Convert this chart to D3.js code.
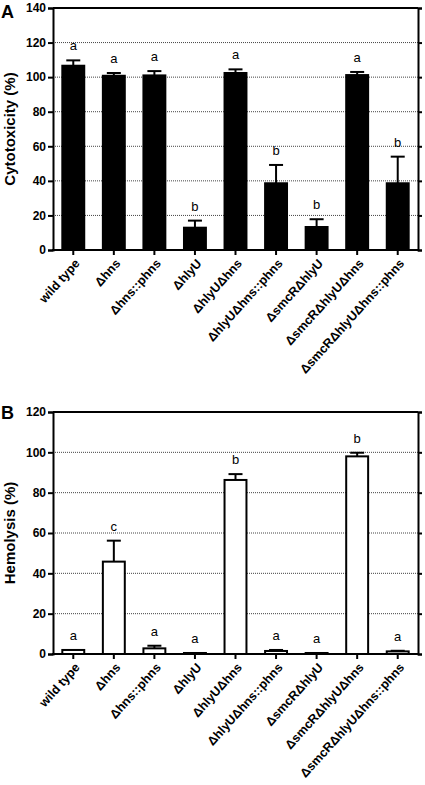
<!DOCTYPE html>
<html><head><meta charset="utf-8">
<script src="https://cdn.jsdelivr.net/npm/d3@7"></script>
<style>body{margin:0;background:#fff}svg{display:block}</style>
</head><body>
<svg id="c" width="425" height="785"></svg>
<script>
const categories = ["wild type","Δhns","Δhns::phns","ΔhlyU","ΔhlyUΔhns","ΔhlyUΔhns::phns","ΔsmcRΔhlyU","ΔsmcRΔhlyUΔhns","ΔsmcRΔhlyUΔhns::phns"];
const cytoValues = [106.6,100.8,101,12.9,102.4,38.6,13.3,101.2,38.6];
const cytoErrors = [3.1,1.6,2.5,4.1,2.1,10.6,4.5,1.8,15.4];
const cytoLetters = ["a","a","a","b","a","b","b","a","b"];
const cytoTicks = [0,20,40,60,80,100,120,140];
const hemoValues = [2,45.8,2.8,0.5,86.3,1.5,0.5,98,1.3];
const hemoErrors = [0,10.4,1.3,0,2.9,0.5,0,1.8,0.3];
const hemoLetters = ["a","c","a","a","b","a","a","b","a"];
const hemoTicks = [0,20,40,60,80,100,120];

const svg = d3.select("#c");
const FONT = "'Liberation Sans', Arial, sans-serif";

function panel(cfg){
  const g = svg.append("g");
  const x = d3.scaleBand().domain(categories).range([53,418]).paddingInner(0.41).paddingOuter(0.205);
  const y = d3.scaleLinear().domain([0,cfg.max]).range([cfg.bottom,cfg.top]);
  // grid
  g.selectAll("line.grid").data(cfg.ticks.filter(t=>t>0 && t<cfg.max)).join("line")
    .attr("x1",53).attr("x2",418).attr("y1",d=>y(d)).attr("y2",d=>y(d))
    .attr("stroke","#444").attr("stroke-width",1).attr("stroke-dasharray","1,1");
  // error bars
  const eg = g.append("g");
  categories.forEach((c,i)=>{
    if(cfg.err[i]<=0) return;
    const cx = x(c)+x.bandwidth()/2;
    const yt = y(cfg.vals[i]+cfg.err[i]);
    eg.append("line").attr("x1",cx).attr("x2",cx).attr("y1",y(cfg.vals[i])).attr("y2",yt).attr("stroke","#000").attr("stroke-width",2);
    eg.append("line").attr("x1",cx-7).attr("x2",cx+7).attr("y1",yt).attr("y2",yt).attr("stroke","#000").attr("stroke-width",2);
  });
  // bars
  g.selectAll("rect.bar").data(categories).join("rect")
    .attr("x",d=>x(d)+1).attr("width",x.bandwidth()-2)
    .attr("y",(d,i)=>y(cfg.vals[i]))
    .attr("height",(d,i)=>Math.max(0,cfg.bottom-y(cfg.vals[i])))
    .attr("fill",cfg.fill).attr("stroke","#000").attr("stroke-width",2);
  // letters
  g.append("g").attr("opacity",0.999).selectAll("text").data(categories).join("text")
    .attr("x",d=>x(d)+x.bandwidth()/2)
    .attr("y",(d,i)=>y(cfg.vals[i]+cfg.err[i])-10)
    .attr("text-anchor","middle").attr("font-family",FONT).attr("font-size",13).attr("fill","#000")
    .text((d,i)=>cfg.letters[i]);
  // left axis
  const la = g.append("g").attr("transform","translate(53,0)").call(d3.axisLeft(y).tickValues(cfg.ticks).tickSize(5).tickPadding(2));
  la.select(".domain").attr("stroke-width",2);
  la.selectAll(".tick line").attr("stroke-width",2);
  la.selectAll("text").attr("font-family",FONT).attr("font-size",12).attr("font-weight","bold").attr("fill","#000");
  // right axis
  const ra = g.append("g").attr("transform","translate(418,0)").call(d3.axisRight(y).tickValues(cfg.ticks).tickSize(4).tickFormat(""));
  ra.select(".domain").attr("stroke-width",2);
  ra.selectAll(".tick line").attr("stroke-width",2);
  // top line
  g.append("line").attr("x1",53).attr("x2",418).attr("y1",cfg.top).attr("y2",cfg.top).attr("stroke","#000").attr("stroke-width",2);
  // bottom axis
  const ba = g.append("g").attr("transform",`translate(0,${cfg.bottom})`).call(d3.axisBottom(x).tickSize(5).tickSizeOuter(0));
  ba.select(".domain").attr("stroke-width",2).attr("d",`M52,0H419`);
  ba.selectAll(".tick line").attr("stroke-width",2);
  ba.selectAll("text").attr("font-family",FONT).attr("font-size",12.5).attr("font-weight","bold").attr("fill","#000")
    .attr("text-anchor","end").attr("dy","0.35em").attr("y",0)
    .attr("transform","translate(4,11) rotate(-48)");
  // y title
  g.append("text").attr("transform",`translate(15,${(cfg.top+cfg.bottom)/2}) rotate(-90)`)
    .attr("text-anchor","middle").attr("font-family",FONT).attr("font-size",15).attr("font-weight","bold").attr("fill","#000").text(cfg.title);
  // panel letter
  g.append("text").attr("x",1).attr("y",cfg.letterY).attr("font-family",FONT).attr("font-size",18).attr("font-weight","bold").attr("fill","#000").text(cfg.panel);
}

panel({vals:cytoValues,err:cytoErrors,letters:cytoLetters,ticks:cytoTicks,max:140,top:8,bottom:250,fill:"#000",title:"Cytotoxicity (%)",panel:"A",letterY:18});
panel({vals:hemoValues,err:hemoErrors,letters:hemoLetters,ticks:hemoTicks,max:120,top:412,bottom:654,fill:"#fff",title:"Hemolysis (%)",panel:"B",letterY:419});
</script>
</body></html>
